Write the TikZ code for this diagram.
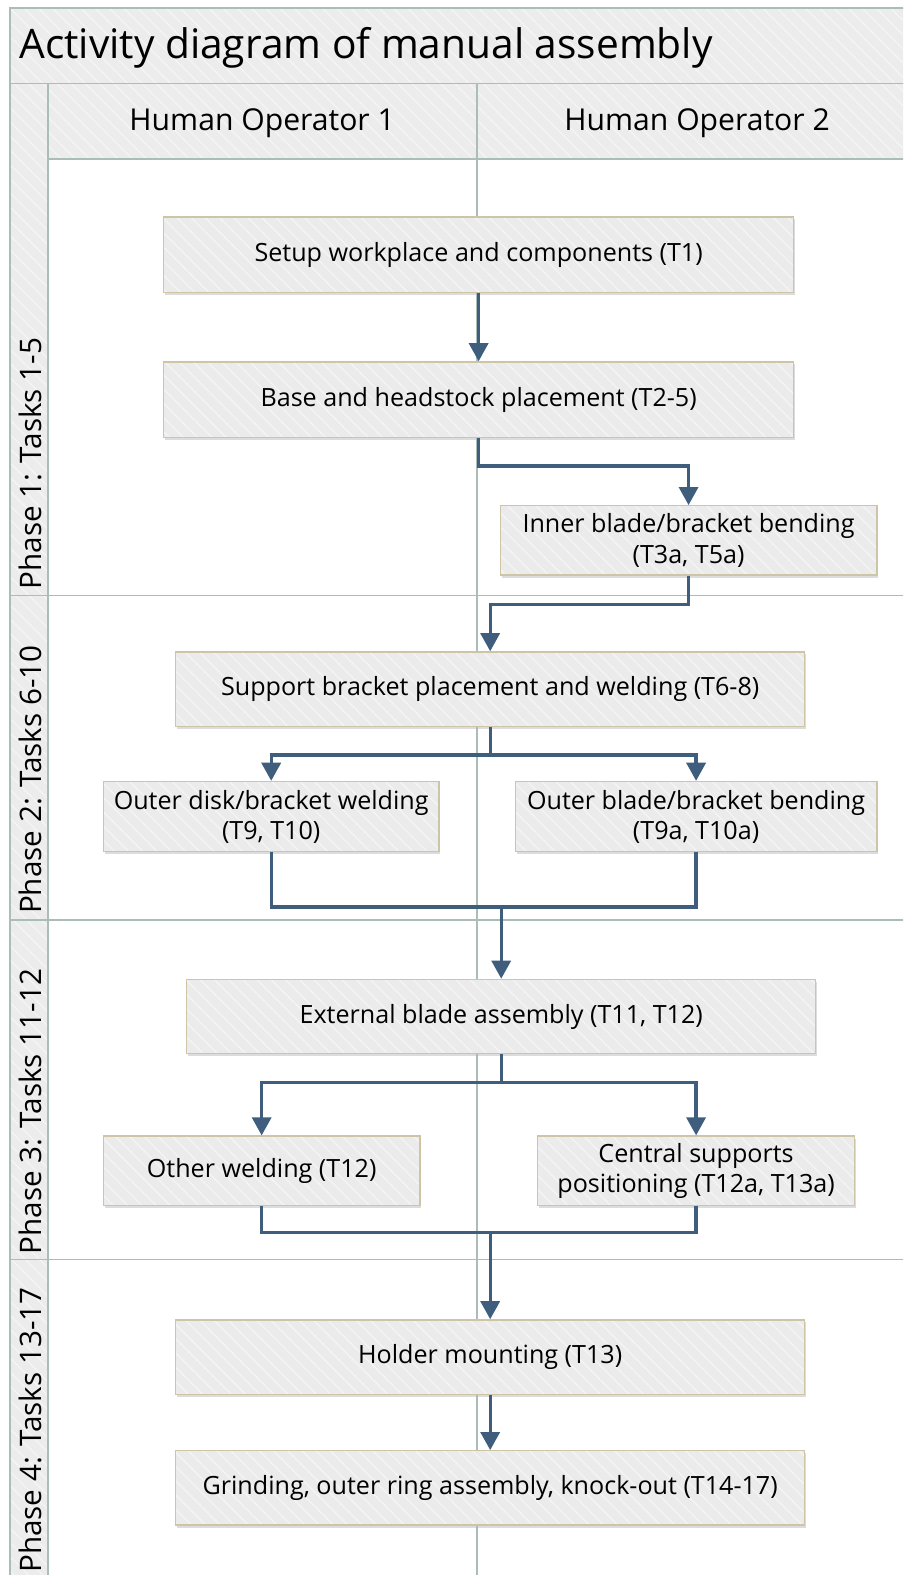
\documentclass[tikz,border=0pt]{standalone}
\usepackage{fontspec}
\setmainfont{Open Sans}
\usetikzlibrary{positioning,arrows.meta,shadows,patterns.meta}
\definecolor{lanegray}{HTML}{AABDB6}
\definecolor{headfill}{HTML}{ECECEC}
\definecolor{boxfill}{HTML}{EBEBEB}
\definecolor{boxedge}{HTML}{CEC5A6}
\definecolor{flowblue}{HTML}{3F5E7E}
\tikzstyle{hatch} = [postaction={pattern={Lines[angle=135,distance=10pt,line width=1.2pt]}, pattern color=white!45!headfill}]
\tikzstyle{block} = [rectangle, draw=boxedge, line width=1.3pt, fill=boxfill, hatch,
    postaction={draw=boxedge, line width=1.3pt},
    align=center, inner sep=2pt, font=\fontsize{25}{30}\selectfont,
    drop shadow={shadow xshift=1.5pt, shadow yshift=-2.5pt, fill=black!30, opacity=0.45}]
\tikzstyle{lane} = [draw=lanegray, line width=1.6pt]
\tikzstyle{head} = [fill=headfill, hatch, postaction={lane}]
\tikzstyle{phase} = [rotate=90, anchor=west, inner sep=0pt, font=\fontsize{29.5}{32}\selectfont]
\tikzstyle{edge} = [draw=flowblue, line width=3.2pt]
\tikzstyle{line} = [edge, -{Triangle[length=18pt,width=19pt]}]

\begin{document}
\begin{tikzpicture}[x=1pt, y=-1pt, node distance=68pt, auto]

		\clip (0,0) rectangle (899,1568);

		% swimlane frame
		\path[head] (10,8) rectangle (930,83);
		\path[head] (48,83) rectangle (930,158);
		\path[head] (10,83) rectangle (48,1600);
		\draw[lane] (475,83) -- (475,1600);
		\foreach \y in {593,916,1254}
			\draw[lane] (10,\y) -- (930,\y);

		\node[anchor=west, inner sep=0pt, font=\fontsize{40.5}{44}\selectfont] (title) at (19,48) {Activity diagram of manual assembly};
		\node[font=\fontsize{30}{34}\selectfont] (op1) at (261,123) {Human Operator 1};
		\node[font=\fontsize{30}{34}\selectfont] (op2) at (694,123) {Human Operator 2};

		\node[phase] (ph1) at (30,587) {Phase 1: Tasks 1-5};
		\node[phase] (ph2) at (30,910) {Phase 2: Tasks 6-10};
		\node[phase] (ph3) at (30,1249) {Phase 3: Tasks 11-12};
		\node[phase] (ph4) at (30,1566) {Phase 4: Tasks 13-17};

		% activities
		\node[block, minimum width=627pt, minimum height=75pt] (t1) at (476.5,253.5) {Setup workplace and components (T1)};
		\node[block, minimum width=627pt, minimum height=75pt, below=of t1] (t2) {Base and headstock placement (T2-5)};
		\node[block, minimum width=375pt, minimum height=69pt] (inner) at (685.5,538) {Inner blade/bracket bending\\(T3a, T5a)};
		\node[block, minimum width=626pt, minimum height=74pt] (support) at (488,686) {Support bracket placement and welding (T6-8)};
		\node[block, minimum width=334pt, minimum height=70pt] (outdisk) at (270,813) {Outer disk/bracket welding\\(T9, T10)};
		\node[block, minimum width=360pt, minimum height=70pt] (outblade) at (693,813) {Outer blade/bracket bending\\(T9a, T10a)};
		\node[block, minimum width=626pt, minimum height=74pt] (external) at (499,1012) {External blade assembly (T11, T12)};
		\node[block, minimum width=315pt, minimum height=69pt] (other) at (260.5,1165.5) {Other welding (T12)};
		\node[block, minimum width=316pt, minimum height=69pt] (central) at (693,1165.5) {Central supports\\positioning (T12a, T13a)};
		\node[block, minimum width=626pt, minimum height=74pt] (holder) at (488,1351) {Holder mounting (T13)};
		\node[block, minimum width=626pt, minimum height=74pt, below=55pt of holder] (grind) {Grinding, outer ring assembly, knock-out (T14-17)};

		\coordinate[below=28pt of support] (split1);
		\coordinate (join1) at (499,903);
		\coordinate[below=28pt of external] (split2);
		\coordinate (join2) at (488,1227);

		% control flow
		\path [line] (t1) -- (t2);
		\path [line] (t2.south) -- ++(0,28) -| (inner);
		\path [line] (inner.south) -- ++(0,29) -| (support);
		\path [edge] (support) -- (split1);
		\path [line] (split1) -| (outdisk);
		\path [line] (split1) -| (outblade);
		\path [edge] (outdisk.south) |- (join1) -| (outblade.south);
		\path [line] (join1) -- (external);
		\path [edge] (external) -- (split2);
		\path [line] (split2) -| (other);
		\path [line] (split2) -| (central);
		\path [edge] (other.south) |- (join2) -| (central.south);
		\path [line] (join2) -- (holder);
		\path [line] (holder) -- (grind);
	\end{tikzpicture}
\end{document}
